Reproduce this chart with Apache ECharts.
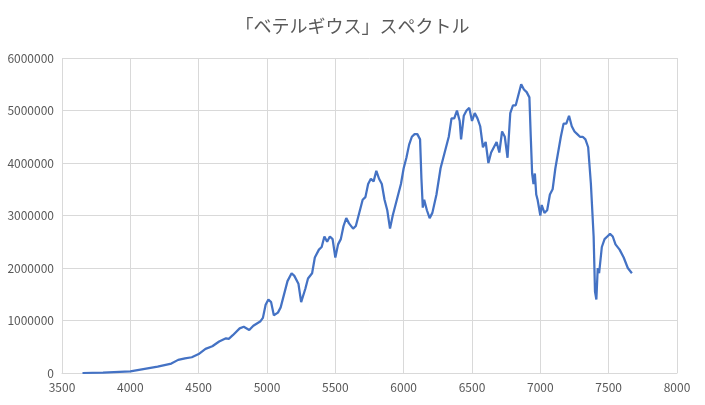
<!DOCTYPE html>
<html><head><meta charset="utf-8">
<script src="https://cdn.jsdelivr.net/npm/echarts@6/dist/echarts.min.js"></script>
<style>html,body{margin:0;background:#fff}#c{width:705px;height:405px}</style>
</head><body><div id="c"></div>
<script>
// 波長 (Å)
var waves = [3650,3800,4000,4200,4300,4350,4400,4450,4500,4550,4600,4650,4700,4720,4750,4800,4830,4870,4900,4950,4970,4990,5010,5030,5050,5080,5100,5130,5150,5180,5200,5230,5250,5280,5300,5330,5350,5380,5400,5420,5440,5460,5480,5500,5520,5540,5560,5580,5600,5630,5650,5680,5700,5720,5740,5760,5780,5800,5820,5840,5860,5880,5900,5920,5950,5980,6000,6020,6040,6060,6080,6100,6120,6130,6140,6150,6170,6190,6210,6240,6270,6300,6320,6330,6350,6370,6390,6410,6420,6440,6460,6480,6500,6520,6540,6560,6580,6600,6620,6640,6660,6680,6700,6720,6740,6760,6780,6800,6820,6840,6860,6880,6900,6920,6930,6940,6950,6960,6970,6980,7000,7010,7030,7050,7070,7090,7110,7130,7150,7170,7190,7210,7230,7250,7270,7290,7310,7330,7350,7370,7390,7400,7410,7420,7430,7450,7470,7490,7510,7530,7550,7580,7610,7640,7670];
// 強度
var flux = [0,5000,30000,120000,180000,250000,280000,300000,360000,460000,510000,600000,660000,650000,720000,850000,880000,820000,900000,980000,1050000,1300000,1400000,1350000,1100000,1150000,1250000,1550000,1750000,1900000,1850000,1700000,1350000,1600000,1800000,1900000,2200000,2350000,2400000,2600000,2500000,2600000,2550000,2200000,2450000,2550000,2800000,2950000,2850000,2750000,2800000,3100000,3300000,3350000,3600000,3700000,3650000,3850000,3700000,3600000,3300000,3100000,2750000,3000000,3300000,3600000,3900000,4100000,4350000,4500000,4550000,4550000,4450000,3700000,3150000,3300000,3100000,2950000,3050000,3400000,3900000,4200000,4400000,4500000,4850000,4850000,5000000,4800000,4450000,4900000,5000000,5050000,4800000,4950000,4850000,4700000,4300000,4400000,4000000,4200000,4300000,4400000,4200000,4600000,4500000,4100000,4950000,5100000,5100000,5300000,5500000,5400000,5350000,5250000,4500000,3800000,3600000,3800000,3400000,3300000,3000000,3200000,3050000,3100000,3400000,3500000,3900000,4200000,4500000,4750000,4750000,4900000,4700000,4600000,4550000,4500000,4500000,4450000,4300000,3600000,2600000,1550000,1400000,2000000,1900000,2400000,2550000,2600000,2650000,2600000,2450000,2350000,2200000,2000000,1900000];

var chart = echarts.init(document.getElementById('c'));
var pts = waves.map(function(w, i) { return [w, flux[i]]; });
var font = 'Noto Sans CJK JP';
var plain = function(v) { return String(v); };
chart.setOption({
	animation: false,
	title: {
		text: '「ベテルギウス」スペクトル',
		left: 'center', top: 12,
		textStyle: { fontFamily: font, fontSize: 18, fontWeight: 'normal', color: '#595959' }
	},
	grid: { left: 62, right: 28, top: 58, bottom: 32 },
	xAxis: {
		type: 'value', min: 3500, max: 8000, interval: 500,
		axisLine: { lineStyle: { color: '#d9d9d9' } },
		axisTick: { show: false },
		axisLabel: { color: '#595959', fontSize: 12, fontFamily: font, formatter: plain },
		splitLine: { lineStyle: { color: '#d9d9d9' } }
	},
	yAxis: {
		type: 'value', min: 0, max: 6000000, interval: 1000000,
		axisLine: { show: false },
		axisTick: { show: false },
		axisLabel: { color: '#595959', fontSize: 12, fontFamily: font, formatter: plain },
		splitLine: { lineStyle: { color: '#d9d9d9' } }
	},
	series: [{
		type: 'line', data: pts, showSymbol: false,
		lineStyle: { color: '#4472c4', width: 2.25 }
	}]
});
</script></body></html>
